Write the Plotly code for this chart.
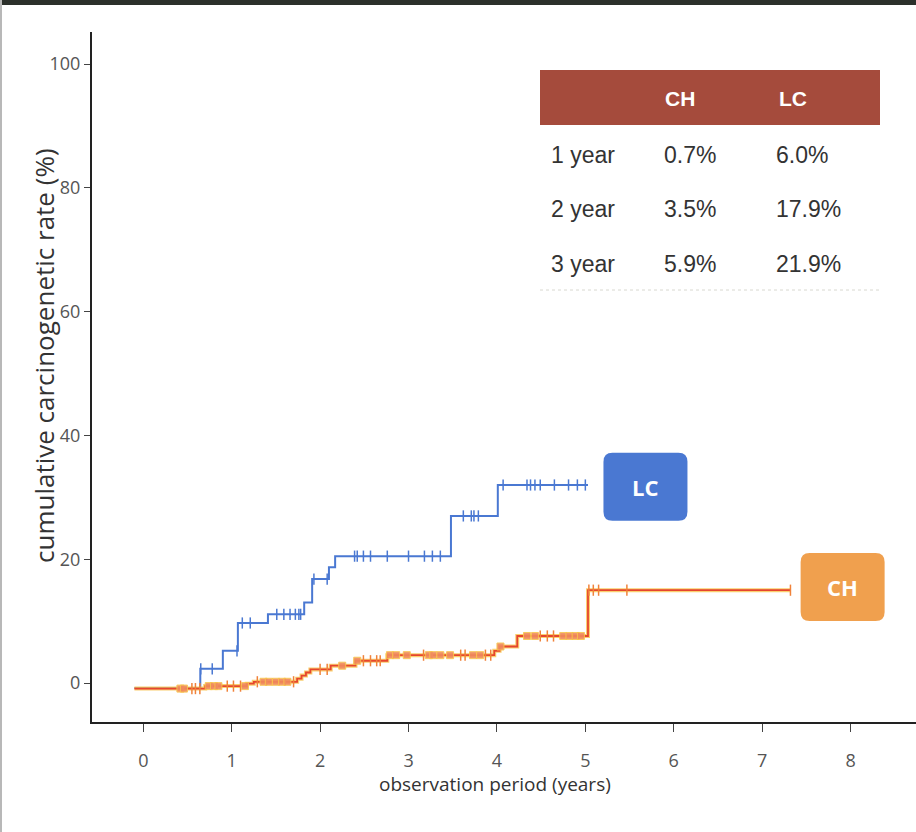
import numpy as np
import plotly.graph_objects as go

# ---------------- data ----------------
lc_t = [-0.1, 0.645, 0.90, 1.07, 1.41, 1.82, 1.91, 2.10, 2.17, 3.48, 4.01, 5.03]
lc_y = [-0.8, 2.3, 5.2, 9.7, 11.1, 13.0, 16.8, 18.7, 20.5, 27.0, 32.0, 32.0]
lc_censor = [0.65, 0.78, 1.06, 1.12, 1.21, 1.51, 1.59, 1.66, 1.72, 1.76, 1.78,
             1.93, 2.08, 2.39, 2.42, 2.49, 2.57, 2.76, 3.00, 3.18, 3.27, 3.36,
             3.62, 3.71, 3.74, 3.79, 4.07, 4.34, 4.38, 4.43, 4.49, 4.65, 4.81,
             4.91, 5.00]

ch_t = [-0.1, 0.70, 1.17, 1.25, 1.74, 1.79, 1.84, 1.89, 2.12, 2.40, 2.76, 3.97, 4.03, 4.23, 5.03, 7.32]
ch_y = [-0.9, -0.5, -0.1, 0.2, 0.7, 1.2, 1.7, 2.2, 2.8, 3.6, 4.5, 5.2, 5.9, 7.6, 15.0, 15.0]
ch_censor_sq = [0.42, 0.46, 0.74, 0.80, 0.85, 1.15, 1.36, 1.42, 1.50, 1.57, 1.63,
                2.25, 2.42, 2.79, 2.86, 2.98, 3.23, 3.28, 3.36, 3.47, 3.73, 3.81,
                4.04, 4.34, 4.43, 4.75, 4.82, 4.89, 4.95]
ch_censor_tick = [0.55, 0.59, 0.64, 0.95, 1.02, 1.10, 1.29, 1.70, 2.00, 2.08,
                  2.49, 2.57, 2.64, 2.68, 3.17, 3.59, 3.64, 3.87, 3.93,
                  4.49, 4.57, 4.64, 5.04, 5.09, 5.15, 5.47, 7.32]

x_ticks = [0, 1, 2, 3, 4, 5, 6, 7, 8]
y_ticks = [0, 20, 40, 60, 80, 100]

table_cols = ["CH", "LC"]
table_rows = ["1 year", "2 year", "3 year"]
table_ch = ["0.7%", "3.5%", "5.9%"]
table_lc = ["6.0%", "17.9%", "21.9%"]

group_labels = ["LC", "CH"]
group_label_pos = [(5.68, 31.7), (7.91, 15.5)]

x_title = "observation period (years)"
y_title = "cumulative carcinogenetic rate (%)"

X_RANGE = [-0.58, 8.74]
Y_RANGE = [-6.3, 105.2]


def step_value(ts, ys, t):
    i = np.searchsorted(ts, t, side="right") - 1
    return ys[max(i, 0)]


BLUE = "#4a78d2"
RED = "#e6452e"
GLOW = "#f9c44c"

fig = go.Figure()

# LC curve
fig.add_trace(go.Scatter(x=lc_t, y=lc_y, mode="lines", line=dict(color=BLUE, width=2, shape="hv"),
                         hoverinfo="skip", showlegend=False))
fig.add_trace(go.Scatter(x=lc_censor, y=[step_value(lc_t, lc_y, t) for t in lc_censor], mode="markers",
                         marker=dict(symbol="line-ns", size=8, line=dict(color=BLUE, width=1.5)),
                         hoverinfo="skip", showlegend=False))

# CH curve (glow + core)
fig.add_trace(go.Scatter(x=ch_t, y=ch_y, mode="lines", line=dict(color=GLOW, width=4, shape="hv"),
                         opacity=0.8, hoverinfo="skip", showlegend=False))
fig.add_trace(go.Scatter(x=ch_t, y=ch_y, mode="lines", line=dict(color=RED, width=1.8, shape="hv"),
                         hoverinfo="skip", showlegend=False))
fig.add_trace(go.Scatter(x=ch_censor_tick, y=[step_value(ch_t, ch_y, t) for t in ch_censor_tick], mode="markers",
                         marker=dict(symbol="line-ns", size=8, line=dict(color="#f0823a", width=1.5)),
                         hoverinfo="skip", showlegend=False))
fig.add_trace(go.Scatter(x=ch_censor_sq, y=[step_value(ch_t, ch_y, t) for t in ch_censor_sq], mode="markers",
                         marker=dict(symbol="square", size=7, color="#f08a5e", opacity=0.9,
                                     line=dict(color=GLOW, width=1)),
                         hoverinfo="skip", showlegend=False))

# ---------------- layout ----------------
W, H = 916, 832
L, R, T, B = 92, 0, 32, 110
PW, PH = W - L - R, H - T - B


def px(x):
    return (x - L) / PW


def py(y):
    return (H - B - y) / PH


def data_to_px(xv, yv):
    X = L + (xv - X_RANGE[0]) / (X_RANGE[1] - X_RANGE[0]) * PW
    Y = T + (Y_RANGE[1] - yv) / (Y_RANGE[1] - Y_RANGE[0]) * PH
    return X, Y


def rounded_rect_path(cx, cy, w, h, r):
    x0, x1 = cx - w / 2, cx + w / 2
    y0, y1 = cy - h / 2, cy + h / 2
    P = lambda a, b: "%.5f,%.5f" % (px(a), py(b))
    return ("M " + P(x0 + r, y0) + " L " + P(x1 - r, y0) + " Q " + P(x1, y0) + " " + P(x1, y0 + r) +
            " L " + P(x1, y1 - r) + " Q " + P(x1, y1) + " " + P(x1 - r, y1) +
            " L " + P(x0 + r, y1) + " Q " + P(x0, y1) + " " + P(x0, y1 - r) +
            " L " + P(x0, y0 + r) + " Q " + P(x0, y0) + " " + P(x0 + r, y0) + " Z")


shapes = []
annotations = []

# dark frame at top, thin gray frame at left
shapes.append(dict(type="rect", xref="paper", yref="paper", x0=px(0), x1=px(W), y0=py(5), y1=py(0),
                   fillcolor="#2c302b", line=dict(width=0), layer="above"))
shapes.append(dict(type="rect", xref="paper", yref="paper", x0=px(0), x1=px(2), y0=py(H), y1=py(0),
                   fillcolor="#b8b8b8", line=dict(width=0), layer="above"))

# table header
shapes.append(dict(type="rect", xref="paper", yref="paper", x0=px(540), x1=px(880), y0=py(125), y1=py(70),
                   fillcolor="#a54b3c", line=dict(width=0)))
shapes.append(dict(type="line", xref="paper", yref="paper", x0=px(540), x1=px(880), y0=py(290), y1=py(290),
                   line=dict(color="#d8d8d0", width=1, dash="dot")))

for name, cx in zip(table_cols, [680, 793]):
    annotations.append(dict(text="<b>%s</b>" % name, xref="paper", yref="paper", x=px(cx), y=py(98),
                            xanchor="center", yanchor="middle", showarrow=False,
                            font=dict(family="Liberation Sans", size=21, color="white")))

row_y = [155, 209, 264]
for lab, a, b, ry in zip(table_rows, table_ch, table_lc, row_y):
    for txt, lx in [(lab, 549), (a, 662), (b, 774)]:
        annotations.append(dict(text=txt, xref="paper", yref="paper", x=px(lx), y=py(ry),
                                xanchor="left", yanchor="middle", showarrow=False,
                                font=dict(family="Liberation Sans", size=23, color="#333333")))

# group label boxes (rounded)
box_colors = [BLUE, "#f0a04e"]
for lab, (gx, gy), col in zip(group_labels, group_label_pos, box_colors):
    cxp, cyp = data_to_px(gx, gy)
    shapes.append(dict(type="path", xref="paper", yref="paper", path=rounded_rect_path(cxp, cyp, 84, 68, 9),
                       fillcolor=col, line=dict(width=0)))
    annotations.append(dict(text="<b>%s</b>" % lab, x=gx, y=gy, xref="x", yref="y", showarrow=False,
                            xanchor="center", yanchor="middle",
                            font=dict(family="Open Sans", size=22, color="white")))

# axis titles
annotations.append(dict(text=y_title, xref="paper", yref="paper", x=px(44), y=py(356),
                        xanchor="center", yanchor="middle", textangle=-90, showarrow=False,
                        font=dict(family="Open Sans", size=26, color="#333333")))
annotations.append(dict(text=x_title, xref="paper", yref="paper", x=px(495), y=py(784),
                        xanchor="center", yanchor="middle", showarrow=False,
                        font=dict(family="Open Sans", size=19, color="#333333")))

fig.update_layout(
    width=W, height=H,
    margin=dict(l=L, r=R, t=T, b=B),
    paper_bgcolor="white", plot_bgcolor="white",
    shapes=shapes, annotations=annotations,
    showlegend=False,
    xaxis=dict(range=X_RANGE, tickvals=x_ticks, ticktext=[str(v) for v in x_ticks],
               showline=True, linecolor="#222222", linewidth=2, ticks="outside", ticklen=8,
               tickcolor="#444444", tickwidth=1, showgrid=False, zeroline=False,
               ticklabelstandoff=13,
               tickfont=dict(family="Open Sans", size=18, color="#555555")),
    yaxis=dict(range=Y_RANGE, tickvals=y_ticks, ticktext=[str(v) for v in y_ticks],
               showline=True, linecolor="#222222", linewidth=2, ticks="outside", ticklen=6,
               tickcolor="#444444", tickwidth=1, showgrid=False, zeroline=False,
               tickfont=dict(family="Open Sans", size=18, color="#555555")),
)

fig.write_html("out.html", config={"displayModeBar": False},
               post_script="document.body.style.margin='0';document.body.style.overflow='hidden';")
